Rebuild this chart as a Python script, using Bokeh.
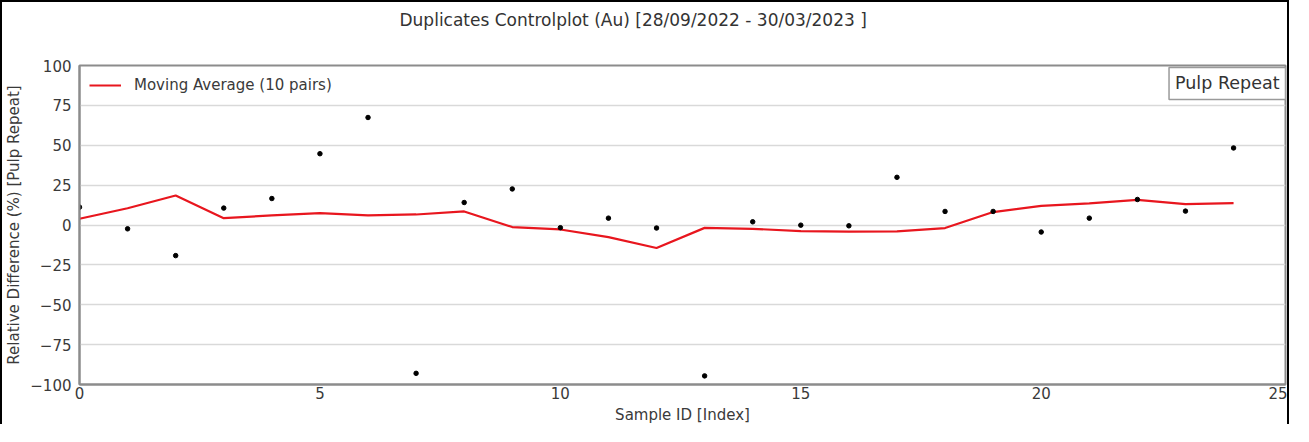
from bokeh.plotting import figure
from bokeh.models import Legend, LegendItem, Label, Range1d, FixedTicker, Title
from bokeh.embed import file_html
from bokeh.resources import INLINE

# ---- data ----
sample_index = list(range(25))
rel_diff = [11.2, -2.4, -19.2, 10.6, 16.6, 44.7, 67.4, -93.0, 14.1, 22.6,
            -1.7, 4.3, -1.9, -94.6, 2.0, -0.1, -0.5, 29.9, 8.5, 8.5,
            -4.4, 4.3, 16.0, 8.7, 48.3]
moving_avg = [3.9, 10.5, 18.5, 4.3, 6.0, 7.4, 6.0, 6.6, 8.5, -1.3,
              -2.8, -7.6, -14.4, -1.8, -2.4, -3.8, -4.2, -4.0, -1.9, 8.1,
              12.0, 13.5, 15.7, 13.1, 13.7]
x_ticks = [0, 5, 10, 15, 20, 25]
y_ticks = [-100, -75, -50, -25, 0, 25, 50, 75, 100]
y_tick_labels = ["\u2212100", "\u221275", "\u221250", "\u221225", "0", "25", "50", "75", "100"]
title_text = "Duplicates Controlplot (Au) [28/09/2022 - 30/03/2023 ]"
legend_label = "Moving Average (10 pairs)"
box_label = "Pulp Repeat"
x_label = "Sample ID [Index]"
y_label = "Relative Difference (%) [Pulp Repeat]"

FONT = "DejaVu Sans"
TXT = "#3a3a3a"
X_END = 25.08

p = figure(width=1289, height=424,
           x_range=Range1d(0, X_END), y_range=Range1d(-100, 100),
           output_backend="svg", toolbar_location=None,
           min_border_left=77, min_border_right=6,
           min_border_top=63, min_border_bottom=41,
           styles={"border-top": "2px solid black",
                   "border-left": "2px solid black",
                   "border-right": "2px solid black"})

# spacer between the frame and the title (nearest the frame)
spacer = Title(text=" ", text_font=FONT, text_font_size="10px", standoff=14)
p.add_layout(spacer, "above")
main_title = Title(text=title_text, text_font=FONT, text_font_size="17px",
                   text_font_style="normal", text_color="#333333",
                   align="left", offset=320, vertical_align="top", standoff=14)
p.add_layout(main_title, "above")

p.outline_line_color = "#8c8c8c"
p.outline_line_width = 2
p.xgrid.grid_line_color = None
p.ygrid.grid_line_color = "#d9d9d9"
p.ygrid.grid_line_width = 1.3

for ax in (p.xaxis[0], p.yaxis[0]):
    ax.axis_line_color = "#8c8c8c"
    ax.axis_line_width = 2
    ax.major_tick_line_color = None
    ax.minor_tick_line_color = None
    ax.major_tick_out = 0
    ax.major_tick_in = 0
    ax.minor_tick_out = 0
    ax.major_label_text_font = FONT
    ax.major_label_text_font_size = "15px"
    ax.major_label_text_color = TXT
    ax.axis_label_text_font = FONT
    ax.axis_label_text_font_size = "15px"
    ax.axis_label_text_font_style = "normal"
    ax.axis_label_text_color = TXT

p.xaxis.ticker = FixedTicker(ticks=x_ticks)
p.yaxis.ticker = FixedTicker(ticks=y_ticks)
p.yaxis.major_label_overrides = {t: s for t, s in zip(y_ticks, y_tick_labels)}
p.xaxis.axis_label = x_label
p.yaxis.axis_label = y_label
p.xaxis.major_label_standoff = 2
p.xaxis.axis_label_standoff = 4
p.yaxis.major_label_standoff = 8
p.yaxis.axis_label_standoff = 4

line = p.line(sample_index, moving_avg, line_color="#e8161e", line_width=2.2)
p.scatter(sample_index, rel_diff, marker="circle", size=4.5,
          fill_color="black", line_color="black")

legend = Legend(items=[LegendItem(label=legend_label, renderers=[line])],
                location="top_left")
legend.margin = 10
legend.padding = 6
legend.glyph_width = 32
legend.label_standoff = 13
legend.border_line_color = None
legend.background_fill_alpha = 0.85
legend.label_text_font = FONT
legend.label_text_font_size = "15px"
legend.label_text_color = TXT
p.add_layout(legend)

box = Label(x=X_END, y=98.8, text=box_label,
            text_align="right", text_baseline="top",
            text_font=FONT, text_font_size="17.5px", text_color="#333333",
            border_line_color="#9a9a9a", border_line_width=1.5,
            background_fill_color="white", padding=6)
p.add_layout(box)

open("out.html", "w").write(file_html(p, INLINE))
